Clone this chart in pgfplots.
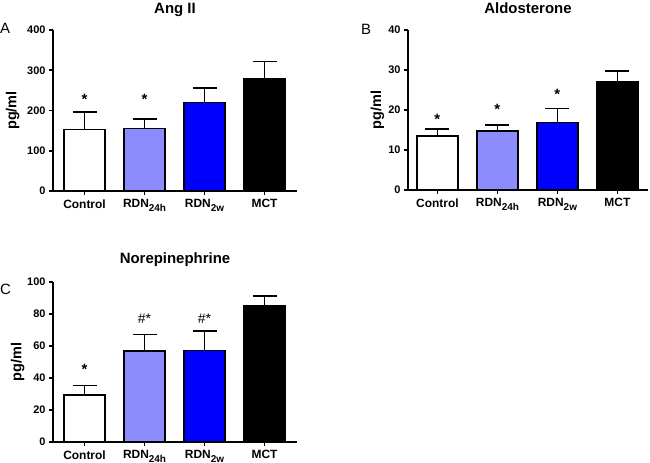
\documentclass[border=0pt]{standalone}
\usepackage{pgfplots}
\pgfplotsset{compat=1.18}
\usepackage{fontspec}
\setmainfont{Liberation Sans}
\definecolor{lightb}{RGB}{140,140,255}
\definecolor{fullb}{RGB}{0,0,255}
\newcommand\sub[1]{\raisebox{-0.3em}{\fontsize{10}{11}\selectfont #1}}
\tikzset{sigstar/.style={anchor=north, inner sep=0pt, font=\bfseries\fontsize{15}{17}\selectfont}}
\pgfplotsset{
  panel/.style={
    scale only axis,
    axis x line*=bottom, axis y line*=left,
    axis line style={line width=1.6bp, black},
    every tick/.style={line width=1.6bp, black},
    major tick length=4bp,
    tick align=outside,
    enlargelimits=false,
    ymin=0,
    xtick={0,1,2,3},
    xticklabels={Control,RDN\sub{24h},RDN\sub{2w},MCT},
    x tick label style={font=\bfseries\fontsize{12}{13}\selectfont, anchor=north, yshift=-1bp},
    y tick label style={font=\bfseries\fontsize{11}{12}\selectfont},
    /pgf/number format/assume math mode=true,
    ylabel={pg/ml},
    ylabel style={font=\bfseries\fontsize{14.5}{16}\selectfont, anchor=center},
    title style={font=\bfseries\fontsize{15}{18}\selectfont, at={(axis description cs:0.5,1)}, anchor=base},
    ybar, bar width=41bp,
    clip=false,
  },
  barp/.style={ybar, bar shift=0pt, draw=black, line width=1.6bp, fill=#1,
    error bars/.cd, y dir=plus, y explicit,
    error bar style={line width=1.6bp, black},
    error mark options={rotate=90, mark size=12bp, line width=1.6bp, black}},
}
\begin{document}
\begin{tikzpicture}
\useasboundingbox (0bp,0bp) rectangle (650bp,463bp);
% Panel A
\begin{axis}[panel, at={(53bp,272bp)}, anchor=south west, width=244bp, height=161bp,
  xmin=-0.525, xmax=3.54, ymax=400, ytick={0,100,200,300,400},
  ylabel style={at={(axis description cs:-0.165,0.5)}},
  title={Ang II}, title style={yshift=10.5bp}]
\addplot[barp=white] coordinates {(0,153) +- (0,44)};
\addplot[barp=lightb] coordinates {(1,155) +- (0,24)};
\addplot[barp=fullb] coordinates {(2,220) +- (0,36)};
\addplot[barp=black] coordinates {(3,278) +- (0,44)};
\node[sigstar] at (axis cs:0,240) {*};
\node[sigstar] at (axis cs:1,240) {*};
\end{axis}
% Panel B
\begin{axis}[panel, at={(408bp,273bp)}, anchor=south west, width=240bp, height=160bp,
  xmin=-0.49, xmax=3.51, ymax=40, ytick={0,10,20,30,40},
  ylabel style={at={(axis description cs:-0.127,0.5)}},
  title={Aldosterone}, title style={yshift=11bp}]
\addplot[barp=white] coordinates {(0,13.5) +- (0,1.7)};
\addplot[barp=lightb] coordinates {(1,14.75) +- (0,1.45)};
\addplot[barp=fullb] coordinates {(2,16.9) +- (0,3.5)};
\addplot[barp=black] coordinates {(3,27.1) +- (0,2.6)};
\node[sigstar] at (axis cs:0,19) {*};
\node[sigstar] at (axis cs:1,21.5) {*};
\node[sigstar] at (axis cs:2,25.3) {*};
\end{axis}
% Panel C
\begin{axis}[panel, at={(53bp,21bp)}, anchor=south west, width=244bp, height=160bp,
  xmin=-0.525, xmax=3.54, ymax=100, ytick={0,20,40,60,80,100},
  ylabel style={at={(axis description cs:-0.145,0.5)}},
  title={Norepinephrine}, title style={yshift=13bp}]
\addplot[barp=white] coordinates {(0,29.2) +- (0,6)};
\addplot[barp=lightb] coordinates {(1,56.9) +- (0,10.4)};
\addplot[barp=fullb] coordinates {(2,57.1) +- (0,12.3)};
\addplot[barp=black] coordinates {(3,85.2) +- (0,6)};
\node[sigstar] at (axis cs:0,48.5) {*};
\node[sigstar, font=\fontsize{14}{16}\selectfont] at (axis cs:1,80.4) {\#*};
\node[sigstar, font=\fontsize{14}{16}\selectfont] at (axis cs:2,80.4) {\#*};
\end{axis}
\node[anchor=base west, inner sep=0pt, font=\fontsize{15}{18}\selectfont] at (0bp,429bp) {A};
\node[anchor=base west, inner sep=0pt, font=\fontsize{15}{18}\selectfont] at (361bp,428bp) {B};
\node[anchor=base west, inner sep=0pt, font=\fontsize{15}{18}\selectfont] at (0bp,168bp) {C};
\end{tikzpicture}
\end{document}
